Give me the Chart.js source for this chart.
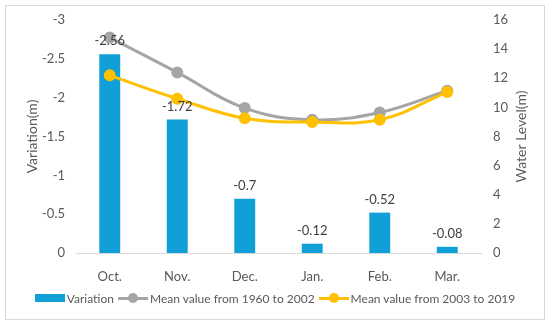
<!DOCTYPE html>
<html>
<head>
<meta charset="utf-8">
<script src="https://cdn.jsdelivr.net/npm/chart.js@4.4.1/dist/chart.umd.min.js"></script>
<style>
  html, body { margin: 0; padding: 0; background: #fff; }
  #wrap { position: relative; width: 550px; height: 326px; }
  #frame { position: absolute; left: 5px; top: 5px; width: 538px; height: 313px; border: 1px solid #d9d9d9; pointer-events: none; }
  #legend { position: absolute; left: 0; top: 290px; width: 550px; display: flex; justify-content: center; font: 12px Lato, sans-serif; color: #595959; }
  .item { display: flex; align-items: center; margin: 0 2px; }
  .key { position: relative; width: 30px; height: 16px; margin-right: 2px; }
  .key .bar { position: absolute; left: 0; top: 4px; width: 30px; height: 8px; }
  .key .ln { position: absolute; left: 0; top: 7px; width: 30px; height: 3px; }
  .key .dot { position: absolute; left: 10px; top: 3px; width: 10px; height: 10px; border-radius: 50%; }
</style>
</head>
<body>
<div id="wrap">
  <canvas id="chart" width="550" height="326"></canvas>
  <div id="frame"></div>
  <div id="legend"></div>
</div>
<script>
// data
const months = ['Oct.', 'Nov.', 'Dec.', 'Jan.', 'Feb.', 'Mar.'];
const variation = [-2.56, -1.72, -0.7, -0.12, -0.52, -0.08];
const mean1960to2002 = [14.8, 12.4, 9.95, 9.15, 9.65, 11.15];
const mean2003to2019 = [12.2, 10.6, 9.25, 9.0, 9.15, 11.05];
const leftTicks = [-3, -2.5, -2, -1.5, -1, -0.5, 0];
const rightTicks = [0, 2, 4, 6, 8, 10, 12, 14, 16];

const blue = '#119fd8';
const grey = '#a5a5a5';
const gold = '#ffc000';
const textColor = '#595959';

Chart.defaults.font.family = 'Lato, sans-serif';
Chart.defaults.font.size = 13;
Chart.defaults.color = textColor;

// value labels above the bars + axis titles (right one reads bottom-to-top like Excel)
const extras = {
    id: 'extras',
    afterDatasetsDraw(chart) {
        const ctx = chart.ctx;
        const meta = chart.getDatasetMeta(0);
        const area = chart.chartArea;
        const midY = (area.top + area.bottom) / 2;
        ctx.save();
        ctx.font = '13px Lato, sans-serif';
        ctx.fillStyle = '#404040';
        ctx.textAlign = 'center';
        ctx.textBaseline = 'middle';
        meta.data.forEach((el, i) => {
            ctx.fillText(String(variation[i]), el.x, el.y - 13);
        });

        ctx.fillStyle = textColor;
        ctx.font = '14px Lato, sans-serif';
        ctx.translate(32, midY);
        ctx.rotate(-Math.PI / 2);
        ctx.fillText('Variation(m)', 0, 0);
        ctx.setTransform(1, 0, 0, 1, 0, 0);
        ctx.translate(521, midY);
        ctx.rotate(-Math.PI / 2);
        ctx.fillText('Water Level(m)', 0, 0);
        ctx.restore();
    }
};

const chart = new Chart(document.getElementById('chart'), {
    type: 'bar',
    data: {
        labels: months,
        datasets: [
            {
                label: 'Variation',
                data: variation,
                backgroundColor: blue,
                yAxisID: 'y',
                barPercentage: 0.62,
                categoryPercentage: 0.5,
                order: 3
            },
            {
                type: 'line',
                label: 'Mean value from 1960 to 2002',
                data: mean1960to2002,
                borderColor: grey,
                backgroundColor: grey,
                borderWidth: 3,
                pointRadius: 4.5,
                tension: 0.4,
                yAxisID: 'y1',
                order: 2
            },
            {
                type: 'line',
                label: 'Mean value from 2003 to 2019',
                data: mean2003to2019,
                borderColor: gold,
                backgroundColor: gold,
                borderWidth: 3,
                pointRadius: 4.5,
                tension: 0.4,
                yAxisID: 'y1',
                order: 1
            }
        ]
    },
    options: {
        responsive: false,
        animation: false,
        layout: { padding: { top: 20, bottom: 43, left: 0, right: 0 } },
        plugins: {
            legend: { display: false },
            tooltip: { enabled: false }
        },
        scales: {
            x: {
                grid: { display: false },
                border: { display: true, color: '#d9d9d9', width: 1 },
                ticks: { padding: 8 },
                afterFit(s) { s.height = 30; }
            },
            y: {
                position: 'left',
                reverse: true,
                min: -3,
                max: 0,
                grid: { display: false },
                border: { display: false },
                afterBuildTicks(s) { s.ticks = leftTicks.map(v => ({ value: v })); },
                ticks: { padding: 3, callback: v => String(v) },
                afterFit(s) { s.width = 76; }
            },
            y1: {
                position: 'right',
                min: 0,
                max: 16,
                grid: { display: false },
                border: { display: false },
                afterBuildTicks(s) { s.ticks = rightTicks.map(v => ({ value: v })); },
                ticks: { padding: 4, callback: v => String(v) },
                afterFit(s) { s.width = 69; }
            }
        }
    },
    plugins: [extras]
});

// legend built from the datasets
const legend = document.getElementById('legend');
chart.data.datasets.forEach(ds => {
    const item = document.createElement('div');
    item.className = 'item';
    const key = document.createElement('div');
    key.className = 'key';
    if (ds.type === 'line') {
        key.innerHTML = '<div class="ln" style="background:' + ds.borderColor + '"></div>' +
            '<div class="dot" style="background:' + ds.borderColor + '"></div>';
    } else {
        key.innerHTML = '<div class="bar" style="background:' + ds.backgroundColor + '"></div>';
    }
    const txt = document.createElement('span');
    txt.textContent = ds.label;
    item.appendChild(key);
    item.appendChild(txt);
    legend.appendChild(item);
});
</script>
</body>
</html>
